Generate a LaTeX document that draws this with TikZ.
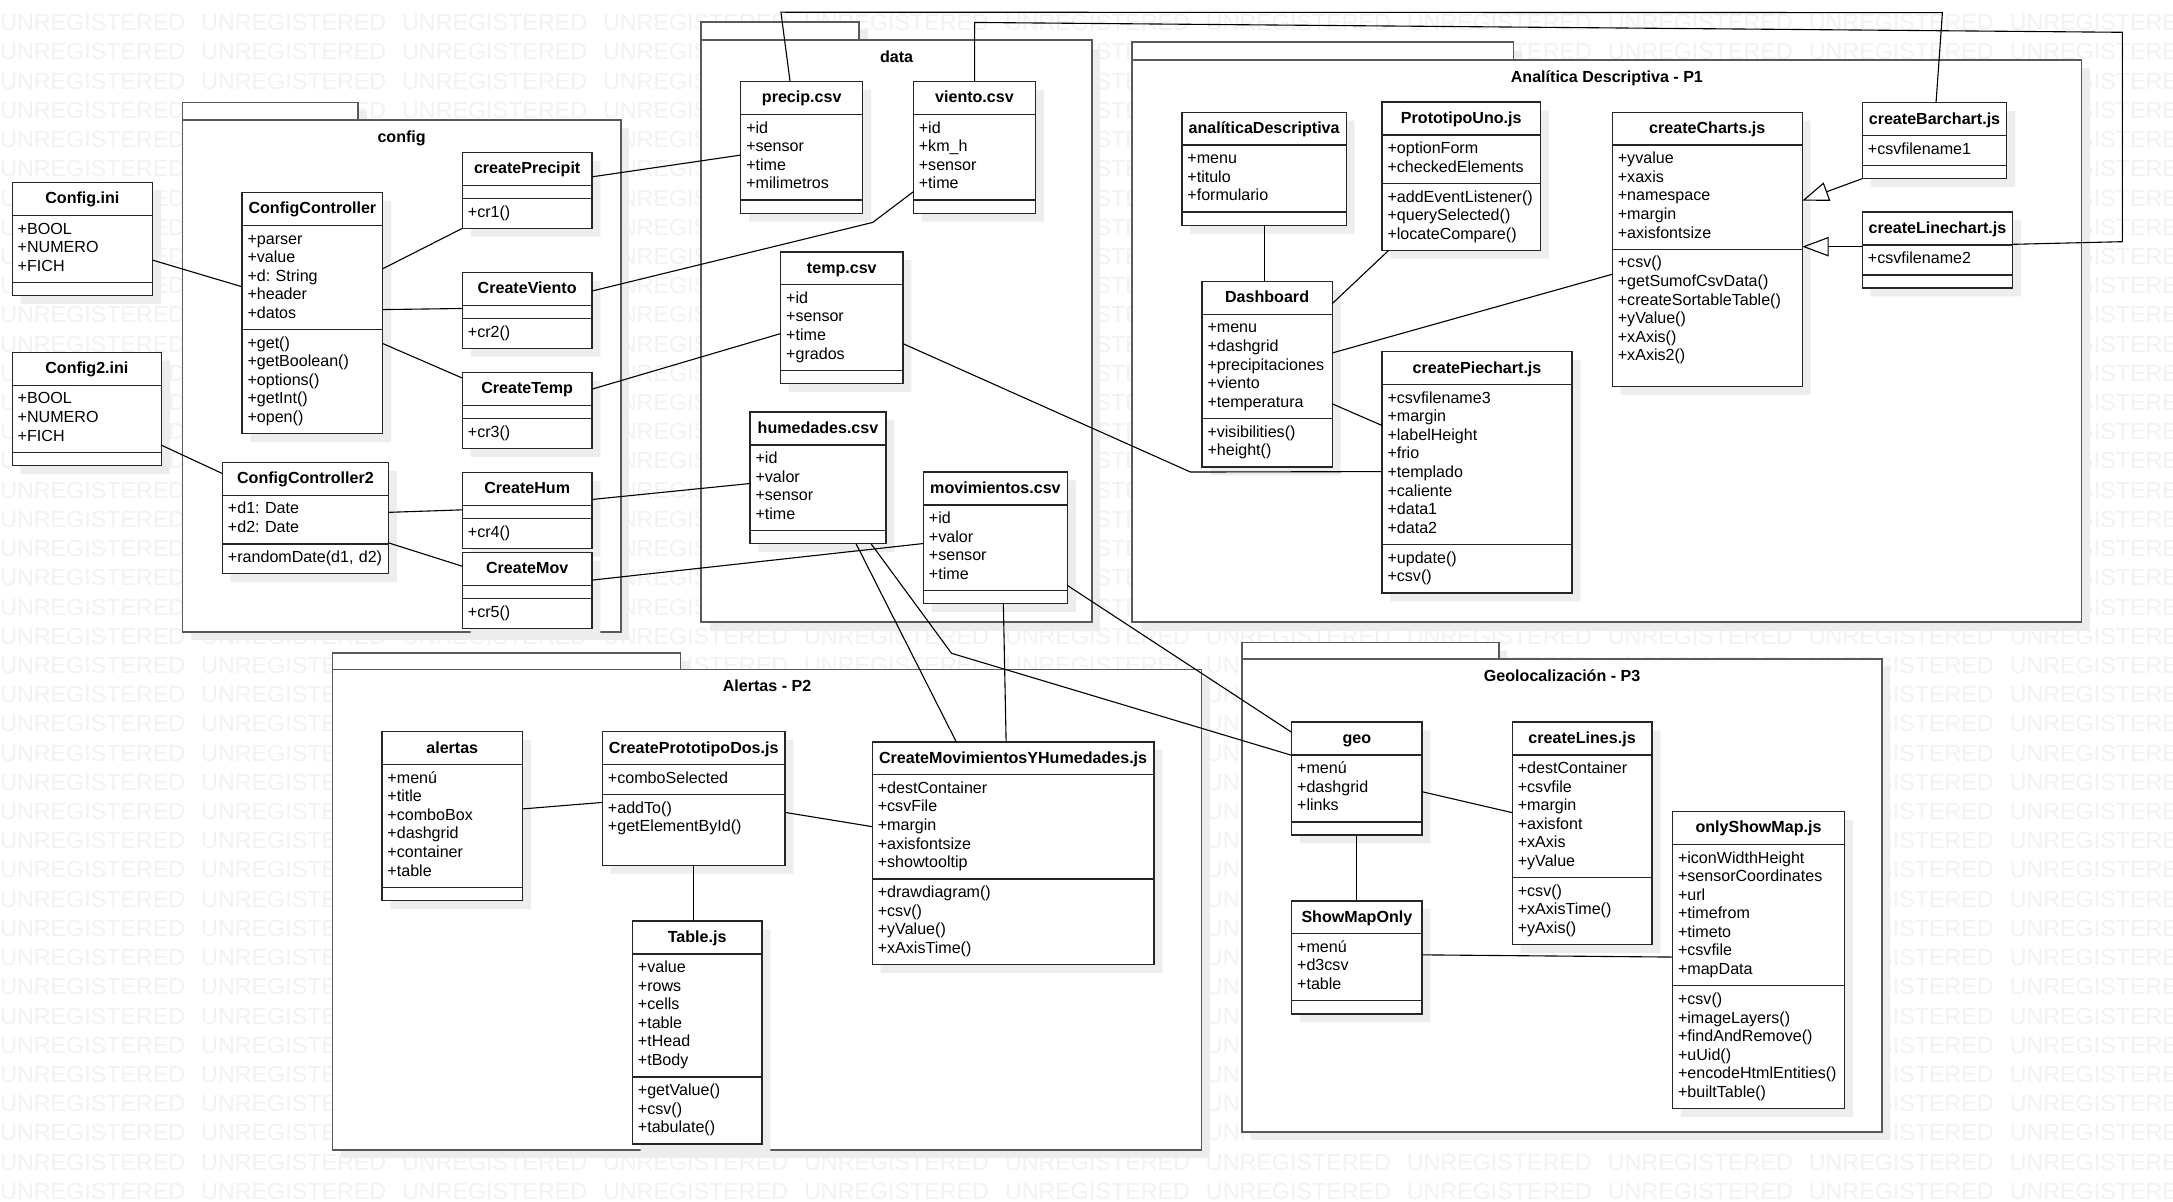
\documentclass[tikz,border=0pt]{standalone}
\usepackage{fontspec}
\setmainfont{Liberation Sans}
\usetikzlibrary{shapes.multipart, shadows, arrows.meta}

\newcommand{\classfont}{\fontsize{11.6}{13.4}\selectfont\frenchspacing}
\newcommand{\ctitle}[1]{\bfseries\rule[-4.2pt]{0pt}{15.5pt}\hfill#1\hfill\null}
\newcommand{\items}[1]{\strut#1\strut}
\newcommand{\noitems}{\rule{0pt}{1.3pt}}

\begin{document}
\begin{tikzpicture}[x=1pt, y=-1pt]
        \tikzstyle{wmtext} = [anchor=base west, inner sep=0pt, text=black!5, font=\fontsize{16.8}{20}\selectfont]
        \tikzstyle{pkgbox} = [draw=black!65, line width=1.2pt, fill=white, anchor=north west, inner sep=0pt, outer sep=0pt, drop shadow={shadow xshift=6pt, shadow yshift=-6pt, fill=black!7, opacity=1}]
        \tikzstyle{pkgtitle} = [anchor=base, inner sep=0pt, font=\classfont\bfseries]
        \tikzstyle{umlclass} = [rectangle split, rectangle split parts=3, draw=black!85, line width=1pt, fill=white, anchor=north west, inner xsep=4pt, inner ysep=3.6pt, outer sep=0pt, font=\classfont, drop shadow={shadow xshift=6pt, shadow yshift=-6pt, fill=black!7, opacity=1}]
        \tikzstyle{link} = [line width=0.8pt]
        \tikzstyle{inherit} = [link, -{Triangle[open, length=19pt, width=14pt]}]

        \useasboundingbox (0,0) rectangle (1568,867);
        \fill[white] (0,0) rectangle (1568,867);
        \begin{scope}
          \clip (0,0) rectangle (1568,867);
          \foreach \r in {0,...,40}
            \foreach \c in {0,...,10}
              \node[wmtext] (wm-\r-\c) at ({145*\c},{22.2+21.08*\r}) {UNREGISTERED};
        \end{scope}

        \node[pkgbox, minimum width=126.9pt, minimum height=12.5pt] (configTab) at (131.6,74) {};
        \node[pkgbox, minimum width=316.4pt, minimum height=369.5pt] (configPkg) at (131.6,86.5) {};
        \node[pkgtitle] (configName) at ([yshift=-16pt]configPkg.north) {config};

        \node[pkgbox, minimum width=114pt, minimum height=13pt] (dataTab) at (506,16) {};
        \node[pkgbox, minimum width=282pt, minimum height=420pt] (dataPkg) at (506,29) {};
        \node[pkgtitle] (dataName) at ([yshift=-16pt]dataPkg.north) {data};

        \node[pkgbox, minimum width=275pt, minimum height=12.8pt] (p1Tab) at (817,30.5) {};
        \node[pkgbox, minimum width=685pt, minimum height=405.7pt] (p1Pkg) at (817,43.3) {};
        \node[pkgtitle] (p1Name) at ([yshift=-16pt]p1Pkg.north) {Analítica Descriptiva - P1};

        \node[pkgbox, minimum width=251pt, minimum height=12pt] (p2Tab) at (240,471) {};
        \node[pkgbox, minimum width=627pt, minimum height=346.6pt] (p2Pkg) at (240,483) {};
        \node[pkgtitle] (p2Name) at ([yshift=-16pt]p2Pkg.north) {Alertas - P2};

        \node[pkgbox, minimum width=185.1pt, minimum height=11.9pt] (p3Tab) at (896.4,463.7) {};
        \node[pkgbox, minimum width=461.6pt, minimum height=341.2pt] (p3Pkg) at (896.4,475.6) {};
        \node[pkgtitle] (p3Name) at ([yshift=-16pt]p3Pkg.north) {Geolocalización - P3};

        \node[umlclass, text width=93.3pt] (configIni) at (8.8,131.7) {\ctitle{Config.ini}\nodepart{two}\items{+BOOL\\+NUMERO\\+FICH}\nodepart{three}\noitems};
        \node[umlclass, text width=99.8pt] (configIni2) at (8.8,254.3) {\ctitle{Config2.ini}\nodepart{two}\items{+BOOL\\+NUMERO\\+FICH}\nodepart{three}\noitems};
        \node[umlclass, text width=93.6pt] (configCtrl) at (174.6,138.9) {\ctitle{ConfigController}\nodepart{two}\items{+parser\\+value\\+d: String\\+header\\+datos}\nodepart{three}\items{+get()\\+getBoolean()\\+options()\\+getInt()\\+open()}};
        \node[umlclass, text width=111.8pt] (configCtrl2) at (160.5,333.7) {\ctitle{ConfigController2}\nodepart{two}\items{+d1: Date\\+d2: Date}\nodepart{three}\items{\mbox{+randomDate(d1, d2)}}};
        \node[umlclass, text width=85.6pt] (createPrecipit) at (333.6,110) {\ctitle{createPrecipit}\nodepart{two}\noitems\nodepart{three}\items{+cr1()}};
        \node[umlclass, text width=85.6pt] (createViento) at (333.6,196.6) {\ctitle{CreateViento}\nodepart{two}\noitems\nodepart{three}\items{+cr2()}};
        \node[umlclass, text width=85.6pt] (createTemp) at (333.6,268.8) {\ctitle{CreateTemp}\nodepart{two}\noitems\nodepart{three}\items{+cr3()}};
        \node[umlclass, text width=85.6pt] (createHum) at (333.6,340.9) {\ctitle{CreateHum}\nodepart{two}\noitems\nodepart{three}\items{+cr4()}};
        \node[umlclass, text width=85.6pt] (createMov) at (333.6,398.6) {\ctitle{CreateMov}\nodepart{two}\noitems\nodepart{three}\items{+cr5()}};

        \node[umlclass, text width=80pt] (precipCsv) at (534.5,58.9) {\ctitle{precip.csv}\nodepart{two}\items{+id\\+sensor\\+time\\+milimetros}\nodepart{three}\noitems};
        \node[umlclass, text width=80.3pt] (vientoCsv) at (659,58.9) {\ctitle{viento.csv}\nodepart{two}\items{+id\\+km\_h\\+sensor\\+time}\nodepart{three}\noitems};
        \node[umlclass, text width=80.3pt] (tempCsv) at (563.3,181.7) {\ctitle{temp.csv}\nodepart{two}\items{+id\\+sensor\\+time\\+grados}\nodepart{three}\noitems};
        \node[umlclass, text width=90.1pt] (humCsv) at (541.2,297.3) {\ctitle{humedades.csv}\nodepart{two}\items{+id\\+valor\\+sensor\\+time}\nodepart{three}\noitems};
        \node[umlclass, text width=96pt] (movCsv) at (666.3,340.6) {\ctitle{movimientos.csv}\nodepart{two}\items{+id\\+valor\\+sensor\\+time}\nodepart{three}\noitems};

        \node[umlclass, text width=110.7pt] (analitica) at (852.8,81) {\ctitle{analíticaDescriptiva}\nodepart{two}\items{+menu\\+titulo\\+formulario}\nodepart{three}\noitems};
        \node[umlclass, text width=106.4pt] (protoUno) at (997.2,73.6) {\ctitle{PrototipoUno.js}\nodepart{two}\items{+optionForm\\+checkedElements}\nodepart{three}\items{+addEventListener()\\+querySelected()\\+locateCompare()}};
        \node[umlclass, text width=86pt] (dashboard) at (867.3,203.1) {\ctitle{Dashboard}\nodepart{two}\items{+menu\\+dashgrid\\+precipitaciones\\+viento\\+temperatura}\nodepart{three}\items{+visibilities()\\+height()}};
        \node[umlclass, text width=129.2pt] (pieChart) at (997.2,253.8) {\ctitle{createPiechart.js}\nodepart{two}\items{+csvfilename3\\+margin\\+labelHeight\\+frio\\+templado\\+caliente\\+data1\\+data2}\nodepart{three}\items{+update()\\+csv()}};
        \node[umlclass, text width=129.1pt] (createCharts) at (1163.4,81) {\ctitle{createCharts.js}\nodepart{two}\items{+yvalue\\+xaxis\\+namespace\\+margin\\+axisfontsize}\nodepart{three}\items{+csv()\\+getSumofCsvData()\\+createSortableTable()\\+yValue()\\+xAxis()\\+xAxis2()\\[-3pt]}};
        \node[umlclass, text width=96.2pt] (barChart) at (1343.8,74.1) {\ctitle{createBarchart.js}\nodepart{two}\items{+csvfilename1}\nodepart{three}\noitems};
        \node[umlclass, text width=100.5pt] (lineChart) at (1343.8,153) {\ctitle{createLinechart.js}\nodepart{two}\items{+csvfilename2}\nodepart{three}\noitems};

        \node[umlclass, text width=93.5pt] (alertas) at (275.6,528) {\ctitle{alertas}\nodepart{two}\items{+menú\\+title\\+comboBox\\+dashgrid\\+container\\+table}\nodepart{three}\noitems};
        \node[umlclass, text width=123.7pt] (protoDos) at (434.7,528) {\ctitle{CreatePrototipoDos.js}\nodepart{two}\items{+comboSelected}\nodepart{three}\items{+addTo()\\+getElementById()\\[2.7pt]}};
        \node[umlclass, text width=85.5pt] (tableJs) at (456.3,664.7) {\ctitle{Table.js}\nodepart{two}\items{+value\\+rows\\+cells\\+table\\+tHead\\+tBody}\nodepart{three}\items{+getValue()\\+csv()\\+tabulate()}};
        \node[umlclass, text width=195.3pt] (movHum) at (629.4,535.3) {\ctitle{CreateMovimientosYHumedades.js}\nodepart{two}\items{+destContainer\\+csvFile\\+margin\\+axisfontsize\\+showtooltip}\nodepart{three}\items{+drawdiagram()\\+csv()\\+yValue()\\+xAxisTime()}};

        \node[umlclass, text width=86.2pt] (geo) at (932,521) {\ctitle{geo}\nodepart{two}\items{+menú\\+dashgrid\\+links}\nodepart{three}\noitems};
        \node[umlclass, text width=86.2pt] (showMap) at (932,650) {\ctitle{ShowMapOnly}\nodepart{two}\items{+menú\\+d3csv\\+table}\nodepart{three}\noitems};
        \node[umlclass, text width=92.8pt] (createLines) at (1091.2,521) {\ctitle{createLines.js}\nodepart{two}\items{+destContainer\\+csvfile\\+margin\\+axisfont\\+xAxis\\+yValue}\nodepart{three}\items{+csv()\\+xAxisTime()\\+yAxis()}};
        \node[umlclass, text width=116.2pt] (onlyShowMap) at (1206.8,585.6) {\ctitle{onlyShowMap.js}\nodepart{two}\items{+iconWidthHeight\\+sensorCoordinates\\+url\\+timefrom\\+timeto\\+csvfile\\+mapData}\nodepart{three}\items{+csv()\\+imageLayers()\\+findAndRemove()\\+uUid()\\+encodeHtmlEntities()\\+builtTable()}};

        \draw[link] ([yshift=-56pt]configIni.north east) -- ([yshift=-68pt]configCtrl.north west);
        \draw[link] ([yshift=-67pt]configIni2.north east) -- ([yshift=-8pt]configCtrl2.north west);
        \draw[link] ([yshift=-55pt]configCtrl.north east) -- (createPrecipit.south west);
        \draw[link] ([yshift=-84.5pt]configCtrl.north east) -- ([yshift=-26pt]createViento.north west);
        \draw[link] ([yshift=-109pt]configCtrl.north east) -- ([yshift=-4pt]createTemp.north west);
        \draw[link] ([yshift=-36pt]configCtrl2.north east) -- ([yshift=-27pt]createHum.north west);
        \draw[link] ([yshift=-58pt]configCtrl2.north east) -- ([yshift=-10pt]createMov.north west);
        \draw[link] ([yshift=-17.6pt]createPrecipit.north east) -- ([yshift=-53pt]precipCsv.north west);
        \draw[link] ([yshift=-13.4pt]createViento.north east) -- (629.7,160.5) -- ([yshift=-79.5pt]vientoCsv.north west);
        \draw[link] ([yshift=-12pt]createTemp.north east) -- ([yshift=-59pt]tempCsv.north west);
        \draw[link] ([yshift=-19.5pt]createHum.north east) -- ([yshift=-51.6pt]humCsv.north west);
        \draw[link] ([yshift=-20pt]createMov.north east) -- ([yshift=-51.6pt]movCsv.north west);
        \draw[link] ([xshift=35.6pt]precipCsv.north west) -- (563.5,8.8) -- (1401.6,9.1) -- ([xshift=53.2pt]barChart.north west);
        \draw[link] ([xshift=44.3pt]vientoCsv.north west) -- (703.3,16.2) -- (1531.4,23.3) -- (1531.4,174.4) -- ([yshift=-23.3pt]lineChart.north east);
        \draw[link] (analitica.south) -- (analitica.south |- dashboard.north);
        \draw[link] ([yshift=-16pt]dashboard.north east) -- ([xshift=4.8pt]protoUno.south west);
        \draw[link] ([yshift=-51.6pt]dashboard.north east) -- ([yshift=-116.9pt]createCharts.north west);
        \draw[link] ([yshift=-88.3pt]dashboard.north east) -- ([yshift=-53.2pt]pieChart.north west);
        \draw[link] ([yshift=-66.3pt]tempCsv.north east) -- (859,340.6) -- ([yshift=-86.5pt]pieChart.north west);
        \draw[inherit] (barChart.south west) -- ([yshift=-63.8pt]createCharts.north east);
        \draw[inherit] ([yshift=-25pt]lineChart.north west) -- ([yshift=-97pt]createCharts.north east);
        \draw[link] ([xshift=76.5pt]humCsv.south west) -- ([xshift=60.6pt]movHum.north west);
        \draw[link] ([xshift=57.7pt]movCsv.south west) -- ([xshift=96.6pt]movHum.north west);
        \draw[link] ([xshift=87.3pt]humCsv.south west) -- (686.6,471.4) -- ([yshift=-24pt]geo.north west);
        \draw[link] ([yshift=-81.9pt]movCsv.north east) -- ([yshift=-7.4pt]geo.north west);
        \draw[link] ([yshift=-55.7pt]alertas.north east) -- ([yshift=-51pt]protoDos.north west);
        \draw[link] ([yshift=-58.2pt]protoDos.north east) -- ([yshift=-61.2pt]movHum.north west);
        \draw[link] (protoDos.south) -- (protoDos.south |- tableJs.north);
        \draw[link] ([yshift=-50.3pt]geo.north east) -- ([yshift=-65.4pt]createLines.north west);
        \draw[link] (geo.south) -- (showMap.north);
        \draw[link] ([yshift=-39pt]showMap.north east) -- ([yshift=-105pt]onlyShowMap.north west);
\end{tikzpicture}
\end{document}
